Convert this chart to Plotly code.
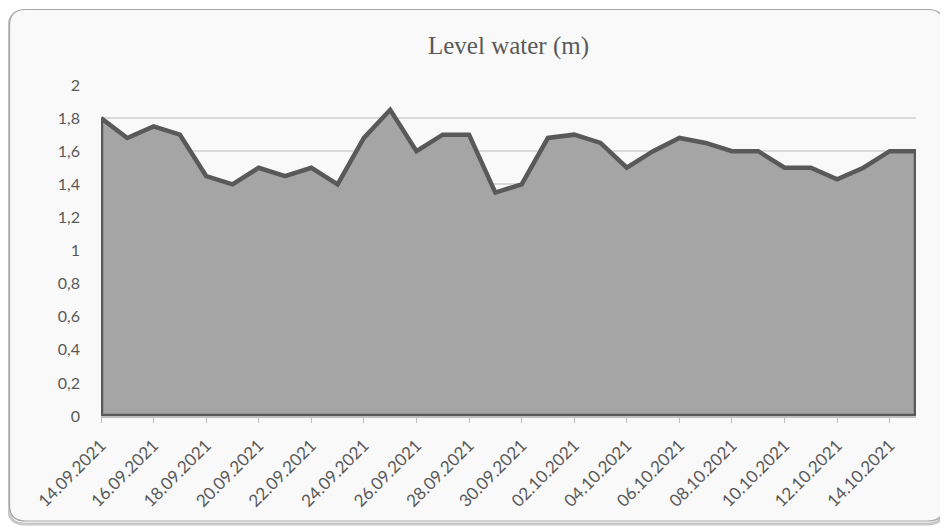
import plotly.graph_objects as go

dates = ["14.09.2021", "15.09.2021", "16.09.2021", "17.09.2021", "18.09.2021", "19.09.2021",
         "20.09.2021", "21.09.2021", "22.09.2021", "23.09.2021", "24.09.2021", "25.09.2021",
         "26.09.2021", "27.09.2021", "28.09.2021", "29.09.2021", "30.09.2021", "01.10.2021",
         "02.10.2021", "03.10.2021", "04.10.2021", "05.10.2021", "06.10.2021", "07.10.2021",
         "08.10.2021", "09.10.2021", "10.10.2021", "11.10.2021", "12.10.2021", "13.10.2021",
         "14.10.2021", "15.10.2021"]
level = [1.80, 1.68, 1.75, 1.70, 1.45, 1.40, 1.50, 1.45, 1.50, 1.40, 1.68, 1.85,
         1.60, 1.70, 1.70, 1.35, 1.40, 1.68, 1.70, 1.65, 1.50, 1.60, 1.68, 1.65,
         1.60, 1.60, 1.50, 1.50, 1.43, 1.50, 1.60, 1.60]
tick_labels = dates[::2]
title = "Level water (m)"

# page body has an 8px margin, so the figure is drawn 8px in from the window corner
W, H = 940, 520
L, R, T, B = 93, 32, 77, 112
pw, ph = W - L - R, H - T - B

def px2paper(x, y):
    return (x - L) / pw, (H - B - y) / ph

# closed outline of the area (data polygon down to zero)
xs = dates + [dates[-1], dates[0], dates[0]]
ys = level + [0, 0, level[0]]

fig = go.Figure()
fig.add_trace(go.Scatter(
    x=xs, y=ys, mode="lines", fill="toself", fillcolor="#a5a5a5",
    line=dict(color="#595959", width=4.5), hoverinfo="skip", showlegend=False))

# rounded border frame
def rounded_path(x0, y0, x1, y1, r):
    def p(x, y):
        a, b = px2paper(x, y)
        return f"{a:.5f},{b:.5f}"
    return (f"M {p(x0 + r, y0)} L {p(x1 - r, y0)} Q {p(x1, y0)} {p(x1, y0 + r)} "
            f"L {p(x1, y1 - r)} Q {p(x1, y1)} {p(x1 - r, y1)} "
            f"L {p(x0 + r, y1)} Q {p(x0, y1)} {p(x0, y1 - r)} "
            f"L {p(x0, y0 + r)} Q {p(x0, y0)} {p(x0 + r, y0)} Z")

fig.add_shape(type="path", xref="paper", yref="paper", layer="below",
              path=rounded_path(0.5, 4, 936, 516, 16),
              line=dict(color="#c8c8c8", width=3), fillcolor="rgba(0,0,0,0)")
fig.add_shape(type="path", xref="paper", yref="paper", layer="below",
              path=rounded_path(1.5, 1.5, 936, 513, 16),
              line=dict(color="#a6a6a6", width=1.2), fillcolor="#f9f9f9")

fig.update_layout(
    width=W, height=H,
    margin=dict(l=L, r=R, t=T, b=B),
    paper_bgcolor="white", plot_bgcolor="rgba(0,0,0,0)",
    separators=", ",
    title=dict(text=title, x=0.5, xref="paper", xanchor="center", y=1 - 37 / H, yanchor="middle",
               font=dict(family="Liberation Serif", size=25, color="#595959")),
    xaxis=dict(type="category", categoryorder="array", categoryarray=dates,
               range=[0, len(dates) - 1], tickmode="array", tickvals=tick_labels,
               ticktext=tick_labels, tickangle=-45, showgrid=False, automargin=False,
               showline=True, linecolor="#bfbfbf", linewidth=1.5,
               ticks="outside", ticklen=5, tickcolor="#bfbfbf", ticklabelstandoff=6,
               tickfont=dict(family="Lato", size=17, color="#595959")),
    yaxis=dict(range=[0, 2], dtick=0.2, tick0=0, showgrid=True, gridcolor="#d9d9d9",
               gridwidth=1.5, zeroline=False, showline=False, ticks="", automargin=False,
               ticklabelstandoff=20,
               tickfont=dict(family="Lato", size=16, color="#595959")),
)

fig.write_html("out.html")
